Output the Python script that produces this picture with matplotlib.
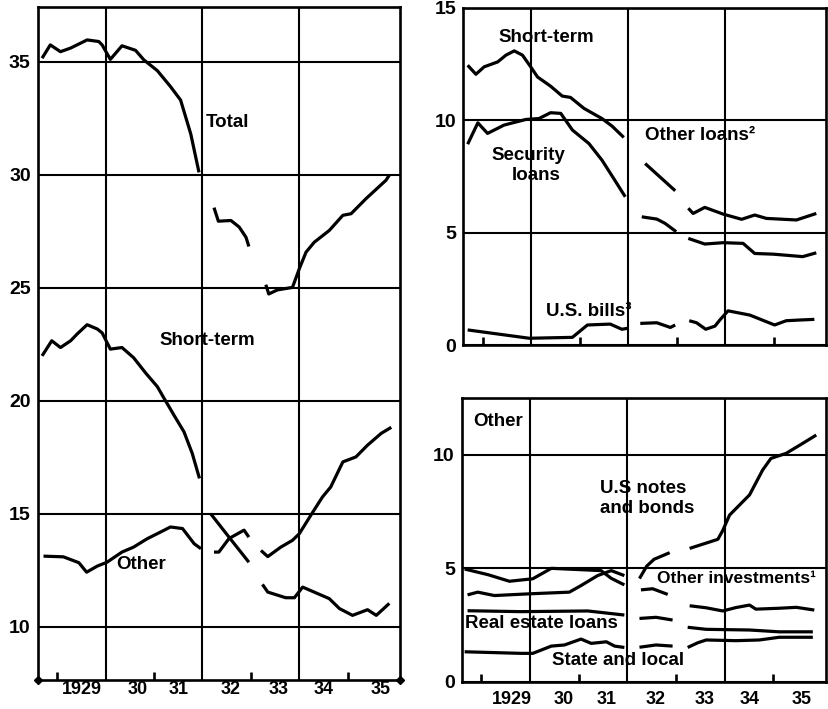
import matplotlib
matplotlib.use("Agg")
import matplotlib.pyplot as plt

plt.rcParams["font.family"] = ["Liberation Sans", "DejaVu Sans"]
plt.rcParams["font.weight"] = "bold"

# --- left panel: total, short-term and other (billions) ---
total_x = [
    [1928.69, 1928.86, 1929.07, 1929.28, 1929.62, 1929.86, 1929.93, 1930.10,
     1930.34, 1930.62, 1930.79, 1931.07, 1931.34, 1931.55, 1931.76, 1931.93],
    [1932.24, 1932.33, 1932.59, 1932.76, 1932.90, 1932.96],
    [1933.31, 1933.37, 1933.55, 1933.86, 1934.00, 1934.14, 1934.31, 1934.62,
     1934.90, 1935.07, 1935.38, 1935.79, 1935.86],
]
total_y = [
    [35.15, 35.74, 35.44, 35.6, 35.96, 35.89, 35.74, 35.1,
     35.7, 35.5, 35.08, 34.6, 33.9, 33.3, 31.8, 30.1],
    [28.54, 27.94, 27.97, 27.68, 27.23, 26.82],
    [25.13, 24.72, 24.9, 25.01, 25.83, 26.57, 27.01, 27.53,
     28.2, 28.27, 28.94, 29.75, 29.98],
]
short_x = [
    [1928.69, 1928.89, 1929.07, 1929.28, 1929.41, 1929.62, 1929.83, 1929.93, 1930.10,
     1930.34, 1930.58, 1930.83, 1931.07, 1931.21, 1931.41, 1931.62, 1931.79, 1931.94],
    [1932.17, 1932.55, 1932.96],
    [1933.21, 1933.35, 1933.62, 1933.86, 1934.00, 1934.28, 1934.48, 1934.65,
     1934.90, 1935.17, 1935.41, 1935.69, 1935.90],
]
short_y = [
    [21.98, 22.65, 22.35, 22.65, 22.94, 23.36, 23.17, 23.0, 22.28,
     22.35, 21.9, 21.22, 20.62, 20.1, 19.37, 18.62, 17.67, 16.56],
    [15.0, 13.96, 12.85],
    [13.37, 13.1, 13.52, 13.82, 14.11, 15.07, 15.74, 16.18,
     17.29, 17.51, 18.03, 18.55, 18.82],
]
other_x = [
    [1928.72, 1929.13, 1929.45, 1929.61, 1929.83, 1930.03, 1930.34, 1930.58,
     1930.86, 1931.14, 1931.34, 1931.59, 1931.83, 1931.97],
    [1932.24, 1932.34, 1932.55, 1932.86, 1932.96],
    [1933.24, 1933.35, 1933.72, 1933.90, 1934.07, 1934.62, 1934.83, 1935.10,
     1935.41, 1935.59, 1935.86],
]
other_y = [
    [13.12, 13.09, 12.83, 12.41, 12.68, 12.85, 13.3, 13.52,
     13.89, 14.19, 14.41, 14.34, 13.67, 13.45],
    [13.3, 13.3, 13.9, 14.27, 13.96],
    [11.87, 11.53, 11.28, 11.28, 11.75, 11.24, 10.8, 10.5, 10.75, 10.5, 11.03],
]

# --- top right: loans ---
st_loans_x = [[1928.69, 1928.86, 1929.03, 1929.31, 1929.48, 1929.65, 1929.82, 1929.99,
               1930.13, 1930.40, 1930.64, 1930.81, 1931.09, 1931.46, 1931.67, 1931.91]]
st_loans_y = [[12.44, 12.04, 12.37, 12.59, 12.89, 13.08, 12.89, 12.37,
               11.92, 11.51, 11.07, 11.01, 10.52, 10.07, 9.73, 9.23]]
sec_x = [
    [1928.69, 1928.90, 1929.10, 1929.44, 1929.89, 1930.16, 1930.40, 1930.61,
     1930.85, 1931.19, 1931.46, 1931.70, 1931.94],
    [1932.28, 1932.59, 1932.76, 1932.99],
    [1933.24, 1933.58, 1933.96, 1934.37, 1934.61, 1934.99, 1935.60, 1935.88],
]
sec_y = [
    [8.93, 9.88, 9.41, 9.78, 10.03, 10.07, 10.33, 10.3, 9.56, 8.96, 8.22, 7.41, 6.59],
    [5.7, 5.6, 5.41, 5.04],
    [4.74, 4.49, 4.55, 4.52, 4.07, 4.04, 3.93, 4.1],
]
oth_loans_x = [
    [1932.35, 1932.97],
    [1933.24, 1933.34, 1933.58, 1933.96, 1934.34, 1934.61, 1934.85, 1935.47, 1935.88],
]
oth_loans_y = [
    [8.07, 6.86],
    [6.08, 5.85, 6.12, 5.82, 5.59, 5.78, 5.63, 5.56, 5.85],
]
bills_x = [
    [1928.69, 1929.96, 1930.85, 1931.16, 1931.63, 1931.87, 1931.98],
    [1932.25, 1932.59, 1932.87, 1932.97],
    [1933.26, 1933.41, 1933.60, 1933.79, 1933.89, 1934.06, 1934.51, 1935.02,
     1935.26, 1935.53, 1935.84],
]
bills_y = [
    [0.67, 0.3, 0.34, 0.89, 0.93, 0.7, 0.74],
    [0.96, 0.99, 0.78, 0.89],
    [1.08, 0.99, 0.7, 0.84, 1.11, 1.52, 1.33, 0.89, 1.08, 1.11, 1.14],
]

# --- bottom right: other ---
notes_x = [
    [1928.72, 1928.93, 1929.27, 1930.03, 1930.81, 1931.05, 1931.39, 1931.67, 1931.94],
    [1932.25, 1932.40, 1932.55, 1932.87],
    [1933.28, 1933.86, 1933.96, 1934.10, 1934.51, 1934.78, 1934.95, 1935.26,
     1935.60, 1935.88],
]
notes_y = [
    [3.83, 3.95, 3.8, 3.88, 3.95, 4.24, 4.68, 4.9, 4.68],
    [4.55, 5.1, 5.4, 5.69],
    [5.88, 6.28, 6.67, 7.35, 8.24, 9.34, 9.85, 10.07, 10.51, 10.88],
]
oth_inv_x = [
    [1928.66, 1929.14, 1929.58, 1930.06, 1930.44, 1931.46, 1931.67, 1931.94],
    [1932.28, 1932.52, 1932.83],
    [1933.28, 1933.62, 1933.96, 1934.23, 1934.51, 1934.64, 1935.12, 1935.47, 1935.84],
]
oth_inv_y = [
    [4.97, 4.72, 4.43, 4.54, 5.0, 4.9, 4.56, 4.27],
    [4.05, 4.1, 3.85],
    [3.35, 3.26, 3.12, 3.27, 3.38, 3.2, 3.24, 3.28, 3.16],
]
real_x = [
    [1928.72, 1929.82, 1931.19, 1931.94],
    [1932.25, 1932.59, 1932.93],
    [1933.24, 1933.62, 1934.51, 1935.12, 1935.81],
]
real_y = [
    [3.13, 3.09, 3.12, 2.94],
    [2.79, 2.84, 2.72],
    [2.4, 2.31, 2.28, 2.2, 2.2],
]
state_x = [
    [1928.66, 1929.82, 1930.06, 1930.44, 1930.71, 1931.05, 1931.26, 1931.57, 1931.74, 1931.94],
    [1932.25, 1932.59, 1932.93],
    [1933.24, 1933.45, 1933.62, 1934.23, 1934.71, 1935.12, 1935.81],
]
state_y = [
    [1.32, 1.25, 1.25, 1.57, 1.62, 1.88, 1.69, 1.76, 1.57, 1.51],
    [1.52, 1.62, 1.57],
    [1.51, 1.72, 1.84, 1.81, 1.84, 1.96, 1.96],
]

year_ticks = [1929, 1931, 1933, 1935]
year_label_pos_left = [1929.52, 1930.66, 1931.51, 1932.59, 1933.58, 1934.51, 1935.69]
year_label_pos_right = [1929.62, 1930.69, 1931.57, 1932.59, 1933.58, 1934.52, 1935.57]
year_labels = ["1929", "30", "31", "32", "33", "34", "35"]
vgrid = [1930, 1932, 1934]

LW = 2.3
FS = 13.5     # curve labels
FS_Y = 14     # y tick labels
FS_X = 13     # year labels


def setup(ax, ylim, yticks, labels_pos=None, label_pad=3):
    ax.set_xlim(1928.6, 1936.08)
    ax.set_ylim(*ylim)
    for s in ax.spines.values():
        s.set_linewidth(1.9)
    for y in yticks:
        ax.axhline(y, color="black", lw=1.5, zorder=1)
    for x in vgrid:
        ax.axvline(x, color="black", lw=1.5, zorder=1)
    ax.set_yticks(yticks)
    ax.set_yticklabels([str(t) for t in yticks], fontsize=FS_Y, fontweight="bold")
    ax.tick_params(axis="y", length=0, pad=5)
    ax.set_xticks(year_ticks)
    ax.set_xticklabels([])
    ax.tick_params(axis="x", which="major", direction="in", length=6, width=1.9)
    if labels_pos is not None:
        ax.set_xticks(labels_pos, minor=True)
        ax.set_xticklabels(year_labels, minor=True, fontsize=FS_X, fontweight="bold")
        ax.tick_params(axis="x", which="minor", length=0, pad=label_pad)


def draw(ax, xs, ys):
    for x, y in zip(xs, ys):
        ax.plot(x, y, color="black", lw=LW, solid_capstyle="butt", zorder=3)


fig = plt.figure(figsize=(8.29, 7.09), dpi=100)
W, H = 829, 709

ax_l = fig.add_axes([37.7 / W, 1 - 680 / H, (400 - 37.7) / W, (680 - 6.7) / H])
ax_tr = fig.add_axes([463.3 / W, 1 - 345 / H, (826 - 463.3) / W, (345 - 7.7) / H])
ax_br = fig.add_axes([461.7 / W, 1 - 681.7 / H, (826 - 461.7) / W, (681.7 - 398.3) / H])

setup(ax_l, (7.64, 37.43), [10, 15, 20, 25, 30, 35], year_label_pos_left, label_pad=1)
setup(ax_tr, (0, 15), [0, 5, 10, 15])
setup(ax_br, (0, 12.5), [0, 5, 10], year_label_pos_right, label_pad=7)

ax_l.plot([0, 1], [0, 0], transform=ax_l.transAxes, marker="D", ms=4,
          ls="none", color="black", clip_on=False)

draw(ax_l, total_x, total_y)
draw(ax_l, short_x, short_y)
draw(ax_l, other_x, other_y)
ax_l.text(1932.51, 32.30, "Total", ha="center", va="center", fontsize=FS)
ax_l.text(1932.10, 22.65, "Short-term", ha="center", va="center", fontsize=FS)
ax_l.text(1930.74, 12.76, "Other", ha="center", va="center", fontsize=FS)

draw(ax_tr, st_loans_x, st_loans_y)
draw(ax_tr, sec_x, sec_y)
draw(ax_tr, oth_loans_x, oth_loans_y)
draw(ax_tr, bills_x, bills_y)
ax_tr.text(1930.32, 13.66, "Short-term", ha="center", va="center", fontsize=FS)
ax_tr.text(1929.95, 8.44, "Security", ha="center", va="center", fontsize=FS)
ax_tr.text(1930.10, 7.56, "loans", ha="center", va="center", fontsize=FS)
ax_tr.text(1932.35, 9.33, "Other loans\u00b2", ha="left", va="center", fontsize=FS)
ax_tr.text(1931.18, 1.48, "U.S. bills\u00b3", ha="center", va="center", fontsize=FS)

draw(ax_br, notes_x, notes_y)
draw(ax_br, oth_inv_x, oth_inv_y)
draw(ax_br, real_x, real_y)
draw(ax_br, state_x, state_y)
ax_br.text(1929.34, 11.47, "Other", ha="center", va="center", fontsize=FS)
ax_br.text(1931.43, 8.53, "U.S notes", ha="left", va="center", fontsize=FS)
ax_br.text(1931.43, 7.65, "and bonds", ha="left", va="center", fontsize=FS)
ax_br.text(1932.62, 4.56, "Other investments\u00b9", ha="left", va="center", fontsize=12.5)
ax_br.text(1928.66, 2.57, "Real estate loans", ha="left", va="center", fontsize=FS)
ax_br.text(1930.46, 0.94, "State and local", ha="left", va="center", fontsize=FS)

fig.savefig("out.png", dpi=100, facecolor="white")
